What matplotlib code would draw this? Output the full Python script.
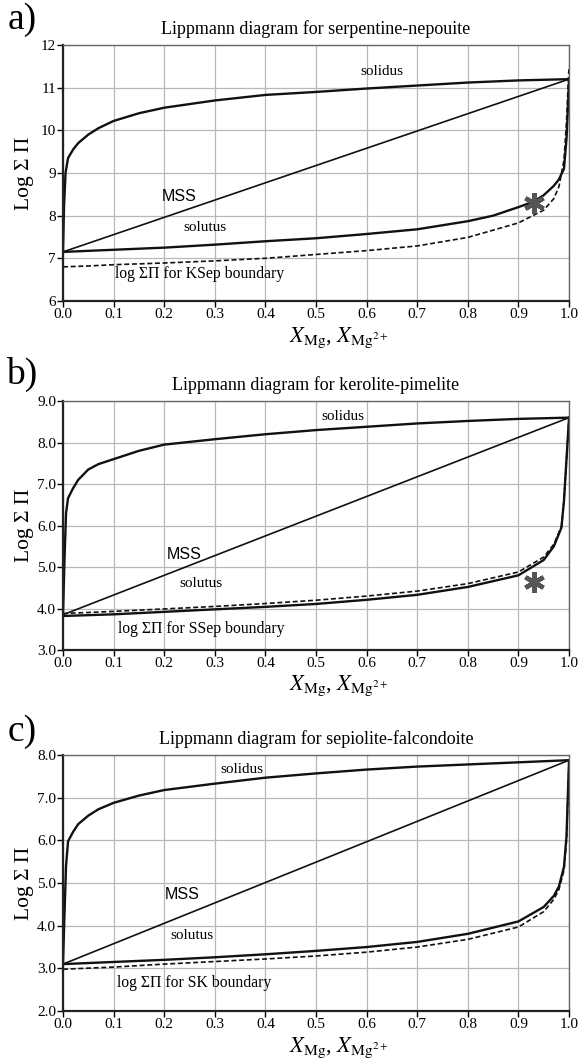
import numpy as np
import matplotlib
matplotlib.use('Agg')
import matplotlib.pyplot as plt

plt.rcParams['font.family'] = ['Liberation Serif', 'DejaVu Serif']
plt.rcParams['mathtext.fontset'] = 'stix'

# ---- panel a: serpentine-nepouite ----
a_sol_x = [0.0, 0.002, 0.005, 0.01, 0.02, 0.03, 0.05, 0.07, 0.1, 0.15, 0.2, 0.3, 0.4, 0.5, 0.6, 0.7, 0.8, 0.9, 1.0]
a_sol_y = [7.15, 8.2, 9.0, 9.35, 9.55, 9.7, 9.9, 10.05, 10.22, 10.4, 10.53, 10.7, 10.83, 10.9, 10.98, 11.05, 11.12, 11.17, 11.2]
a_solu_x = [0.0, 0.1, 0.2, 0.3, 0.4, 0.5, 0.6, 0.7, 0.8, 0.85, 0.9, 0.93, 0.95, 0.97, 0.98, 0.99, 0.995, 0.998, 1.0]
a_solu_y = [7.15, 7.2, 7.25, 7.32, 7.4, 7.47, 7.57, 7.68, 7.87, 8.0, 8.2, 8.33, 8.48, 8.7, 8.85, 9.1, 9.8, 10.6, 11.2]
a_bnd_x = [0.0, 0.05, 0.1, 0.2, 0.3, 0.4, 0.5, 0.6, 0.7, 0.8, 0.9, 0.95, 0.97, 0.98, 0.99, 0.995, 0.998, 1.0]
a_bnd_y = [6.8, 6.82, 6.85, 6.89, 6.94, 7.0, 7.09, 7.18, 7.29, 7.49, 7.83, 8.13, 8.4, 8.68, 9.3, 10.2, 11.0, 11.5]
a_mss = [7.15, 11.2]

# ---- panel b: kerolite-pimelite ----
b_sol_x = [0.0, 0.003, 0.006, 0.01, 0.02, 0.03, 0.05, 0.07, 0.1, 0.15, 0.2, 0.3, 0.4, 0.5, 0.6, 0.7, 0.8, 0.9, 1.0]
b_sol_y = [3.85, 5.2, 6.3, 6.66, 6.9, 7.1, 7.35, 7.48, 7.6, 7.8, 7.95, 8.08, 8.2, 8.3, 8.38, 8.46, 8.52, 8.57, 8.6]
b_solu_x = [0.0, 0.1, 0.2, 0.3, 0.4, 0.5, 0.6, 0.7, 0.8, 0.9, 0.95, 0.97, 0.985, 0.99, 0.995, 1.0]
b_solu_y = [3.82, 3.86, 3.92, 3.98, 4.04, 4.11, 4.21, 4.33, 4.52, 4.8, 5.17, 5.5, 5.95, 6.6, 7.6, 8.6]
b_bnd_x = [0.0, 0.1, 0.2, 0.3, 0.4, 0.5, 0.6, 0.7, 0.8, 0.9, 0.95, 0.97, 0.985, 0.99, 0.995, 1.0]
b_bnd_y = [3.88, 3.93, 3.99, 4.05, 4.12, 4.2, 4.3, 4.42, 4.6, 4.88, 5.24, 5.55, 5.98, 6.6, 7.6, 8.6]
b_mss = [3.85, 8.6]

# ---- panel c: sepiolite-falcondoite ----
c_sol_x = [0.0, 0.003, 0.006, 0.01, 0.02, 0.03, 0.05, 0.07, 0.1, 0.15, 0.2, 0.3, 0.4, 0.5, 0.6, 0.7, 0.8, 0.9, 1.0]
c_sol_y = [3.1, 4.3, 5.4, 5.98, 6.2, 6.38, 6.58, 6.73, 6.88, 7.05, 7.18, 7.33, 7.47, 7.57, 7.66, 7.73, 7.78, 7.83, 7.88]
c_solu_x = [0.0, 0.1, 0.2, 0.3, 0.4, 0.5, 0.6, 0.7, 0.8, 0.9, 0.95, 0.97, 0.98, 0.99, 0.995, 1.0]
c_solu_y = [3.1, 3.15, 3.2, 3.26, 3.33, 3.41, 3.5, 3.62, 3.81, 4.1, 4.44, 4.7, 4.92, 5.38, 6.1, 7.88]
c_bnd_x = [0.0, 0.1, 0.2, 0.3, 0.4, 0.5, 0.6, 0.7, 0.8, 0.9, 0.95, 0.97, 0.98, 0.99, 0.995, 1.0]
c_bnd_y = [2.98, 3.03, 3.1, 3.16, 3.22, 3.29, 3.38, 3.5, 3.68, 3.97, 4.33, 4.62, 4.85, 5.3, 6.0, 7.88]
c_mss = [3.1, 7.88]

panels = [
    dict(tag='a)', title='Lippmann diagram for serpentine-nepouite', ylim=(6, 12), fmt='{:.0f}',
         sol=(a_sol_x, a_sol_y), solu=(a_solu_x, a_solu_y), bnd=(a_bnd_x, a_bnd_y), mss=a_mss,
         bnd_label='log ΣΠ for KSep boundary', star=(0.93, 8.3),
         lab_sol=(0.63, 11.37), lab_mss=(0.23, 8.45), lab_solu=(0.28, 7.73), lab_bnd=(0.27, 6.63),
         box=[0.1088, 0.7158, 0.874, 0.2417], tagy=1059 - 20),
    dict(tag='b)', title='Lippmann diagram for kerolite-pimelite', ylim=(3, 9), fmt='{:.1f}',
         sol=(b_sol_x, b_sol_y), solu=(b_solu_x, b_solu_y), bnd=(b_bnd_x, b_bnd_y), mss=b_mss,
         bnd_label='log ΣΠ for SSep boundary', star=(0.93, 4.64),
         lab_sol=(0.554, 8.62), lab_mss=(0.24, 5.3), lab_solu=(0.272, 4.6), lab_bnd=(0.274, 3.5),
         box=[0.1088, 0.3862, 0.874, 0.2351], tagy=1059 - 374),
    dict(tag='c)', title='Lippmann diagram for sepiolite-falcondoite', ylim=(2, 8), fmt='{:.1f}',
         sol=(c_sol_x, c_sol_y), solu=(c_solu_x, c_solu_y), bnd=(c_bnd_x, c_bnd_y), mss=c_mss,
         bnd_label='log ΣΠ for SK boundary', star=None,
         lab_sol=(0.354, 7.66), lab_mss=(0.235, 4.72), lab_solu=(0.255, 3.77), lab_bnd=(0.26, 2.66),
         box=[0.1088, 0.0453, 0.874, 0.2417], tagy=1059 - 732),
]

fig = plt.figure(figsize=(5.79, 10.59), dpi=100)

for p in panels:
    ax = fig.add_axes(p['box'])
    ax.set_xlim(0, 1)
    ax.set_ylim(*p['ylim'])
    xt = np.arange(0, 1.01, 0.1)
    ax.set_xticks(xt)
    ax.set_xticklabels(['{:.1f}'.format(v) for v in xt])
    yt = np.arange(p['ylim'][0], p['ylim'][1] + 0.01, 1)
    ax.set_yticks(yt)
    ax.set_yticklabels([p['fmt'].format(v) for v in yt])
    ax.grid(True, color='#b8b8b8', linewidth=0.9)
    ax.set_axisbelow(True)
    ax.tick_params(labelsize=11, length=4, width=1, pad=1)
    for s in ['left', 'bottom']:
        ax.spines[s].set_linewidth(1.6)
        ax.spines[s].set_color('#222222')
    for s in ['top', 'right']:
        ax.spines[s].set_linewidth(1.0)
        ax.spines[s].set_color('#666666')

    ax.plot([0, 1], p['mss'], color='#111111', lw=1.2)
    ax.plot(*p['sol'], color='#111111', lw=1.7)
    ax.plot(*p['bnd'], color='#111111', lw=1.2, ls=(0, (3, 1.6)))
    ax.plot(*p['solu'], color='#111111', lw=1.7)

    if p['star'] is not None:
        ax.plot(*p['star'], marker=(6, 2, 0), markersize=15, mew=3.2, color='#555555', ls='none')
    ax.text(*p['lab_sol'], 'solidus', fontsize=11, ha='center', va='center')
    ax.text(*p['lab_mss'], 'MSS', fontsize=11.5, ha='center', va='center', family='Liberation Sans')
    ax.text(*p['lab_solu'], 'solutus', fontsize=11, ha='center', va='center')
    ax.text(*p['lab_bnd'], p['bnd_label'], fontsize=11.3, ha='center', va='center')

    ax.set_title(p['title'], fontsize=13, pad=8)
    ax.set_ylabel('Log Σ Π', fontsize=15.5)
    ax.yaxis.set_label_coords(-0.057, 0.5)
    ax.set_xlabel(r'$X_{\rm Mg}$, $X_{{\rm Mg}^{2+}}$', fontsize=16)
    ax.xaxis.label.set_verticalalignment('center')
    ax.xaxis.set_label_coords(0.545, -0.145)

    fig.text(22 / 579, p['tagy'] / 1059, p['tag'], fontsize=27, ha='center', va='center')

fig.savefig('out.png', dpi=100)
